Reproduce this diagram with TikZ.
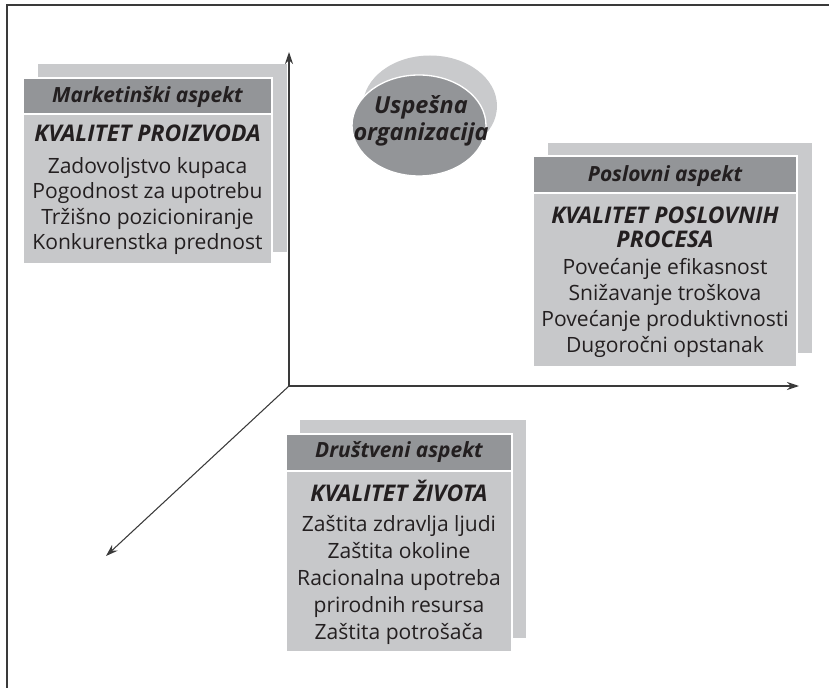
\documentclass[tikz,border=0pt]{standalone}
\usepackage{fontspec}
\setmainfont{Open Sans}
\usetikzlibrary{arrows.meta}
\definecolor{headgray}{HTML}{939598}
\definecolor{bodygray}{HTML}{C7C8CA}
\definecolor{shadegray}{HTML}{C9CACC}
\definecolor{ink}{HTML}{231F20}
\definecolor{axisgray}{HTML}{3A3A3A}
\tikzset{
  shade/.style={fill=shadegray},
  front/.style={fill=bodygray, draw=white, line width=1pt},
  head/.style={fill=headgray, draw=white, line width=1pt},
  titletxt/.style={text=ink, font=\fontsize{15.7}{17}\selectfont\bfseries\itshape, inner sep=0pt},
  subtxt/.style={text=ink, font=\fontsize{17.2}{18.2}\selectfont\bfseries\itshape, inner sep=0pt, align=center},
  listtxt/.style={text=ink, font=\fontsize{15.8}{19}\selectfont, inner sep=0pt, align=center},
  axisline/.style={draw=axisgray, line width=1.1pt, -{Stealth[length=9pt,width=6pt]}},
  frameline/.style={draw=axisgray, line width=1.5pt},
}
\begin{document}
\begin{tikzpicture}[x=0.75pt,y=-0.75pt]
\useasboundingbox (0,0) rectangle (829,688);
% frame
\draw[frameline] (6.5,688) -- (6.5,5.5) -- (829,5.5);

% ellipse
\fill[shade] (430,106) ellipse (67 and 50.5);
\filldraw[fill=headgray, draw=white, line width=1pt] (419,125.5) ellipse (67 and 50.5);
\node[text=ink, inner sep=0pt, align=center, font=\fontsize{17.6}{20.3}\selectfont\bfseries\itshape] (usp) at (421,121) {Uspešna\\organizacija};

% left box
\fill[shade] (38,64) rectangle (287,252);
\filldraw[front] (23,78) rectangle (272,264);
\filldraw[head] (23,78) rectangle (272,114);
\node[titletxt] (mk) at (147.5,97) {Marketinški aspekt};
\node[subtxt] (mkq) at (147.5,133) {KVALITET PROIZVODA};
\node[listtxt] (mkl) at (147.5,206) {Zadovoljstvo kupaca\\Pogodnost za upotrebu\\Tržišno pozicioniranje\\Konkurenstka prednost};

% right box
\fill[shade] (548,143) rectangle (812,353);
\filldraw[front] (533,156) rectangle (797,367);
\filldraw[head] (533,156) rectangle (797,193);
\node[titletxt] (po) at (665,176) {Poslovni aspekt};
\node[subtxt] (poq) at (665,227) {KVALITET POSLOVNIH\\PROCESA};
\node[listtxt, font=\fontsize{15.8}{19.3}\selectfont] (pol) at (665,308) {Povećanje efikasnost\\Snižavanje troškova\\Povećanje produktivnosti\\Dugoročni opstanak};

% bottom box
\fill[shade] (300,420) rectangle (526,638);
\filldraw[front] (286,434) rectangle (512,652);
\filldraw[head] (286,434) rectangle (512,471);
\node[titletxt] (dr) at (399,452) {Društveni aspekt};
\node[subtxt] (drq) at (399,491) {KVALITET ŽIVOTA};
\node[listtxt, font=\fontsize{15.8}{20.2}\selectfont] (drl) at (399,580) {Zaštita zdravlja ljudi\\Zaštita okoline\\Racionalna upotreba\\prirodnih resursa\\Zaštita potrošača};

% axes
\coordinate (o) at (289,386);
\coordinate (ytip) at (289,52);
\coordinate (xtip) at (799,386);
\coordinate (ztip) at (106,556);
\draw[axisline] (o) -- (ytip);
\draw[axisline] (o) -- (xtip);
\draw[axisline, line width=0.8pt] (o) -- (ztip);
\end{tikzpicture}
\end{document}
